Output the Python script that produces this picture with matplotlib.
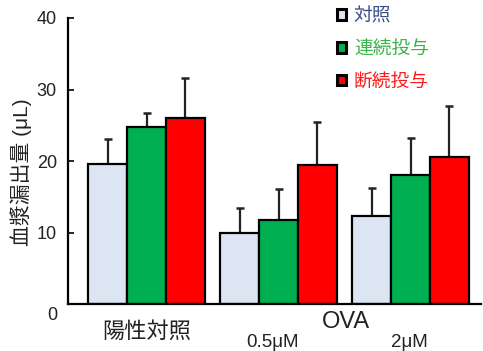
import numpy as np
import matplotlib.pyplot as plt
import matplotlib.transforms as mtransforms

plt.rcParams['font.family'] = ['Liberation Sans', 'Noto Sans CJK JP']

groups = ['陽性対照', '0.5μM', '2μM']
series = ['対照', '連続投与', '断続投与']
means = [
    [19.6, 9.9, 12.3],   # 対照
    [24.8, 11.8, 18.1],  # 連続投与
    [26.0, 19.5, 20.5],  # 断続投与
]
errs = [
    [3.5, 3.5, 3.9],
    [1.9, 4.3, 5.1],
    [5.6, 5.9, 7.2],
]
fills = ['#dce6f2', '#00b050', '#ff0000']
text_cols = ['#3b4f86', '#3cb34a', '#ff1a1a']

fig = plt.figure(figsize=(4.83, 3.51), dpi=100)
ax = fig.add_axes([68 / 483, 47 / 351, 413 / 483, 286 / 351])

x = np.arange(len(groups))
w = 0.295
handles = []
for i in range(3):
    pos = x + (i - 1) * w
    b = ax.bar(pos, means[i], width=w, color=fills[i], edgecolor='black',
               linewidth=1.6, zorder=2, label=series[i])
    ax.errorbar(pos, means[i], yerr=[np.zeros(3), errs[i]], fmt='none',
                ecolor='#222222', elinewidth=1.6, capsize=3, capthick=1.8,
                zorder=1)
    handles.append(b)

ax.set_xlim(-0.595, 2.534)
ax.set_ylim(0, 40)
ax.set_yticks([0, 10, 20, 30, 40])
ax.tick_params(axis='y', direction='in', length=4, width=1.2, labelsize=13,
               pad=8, labelcolor='#222222')
ax.set_xticks([])
for s in ['top', 'right']:
    ax.spines[s].set_visible(False)
ax.spines['left'].set_linewidth(1.6)
ax.spines['bottom'].set_linewidth(1.6)

# the "0" label sits a little below the baseline
zero = ax.get_yticklabels()[0]
zero.set_transform(zero.get_transform() +
                   mtransforms.ScaledTranslation(0, -9 / 100, fig.dpi_scale_trans))

ax.set_ylabel('血漿漏出量 (μL)', fontsize=15, va='center', color='#222222')
ax.yaxis.set_label_coords(-0.114, 0.46)

# group captions under the axis
xt = ax.get_xaxis_transform()
ax.text(0.003, -0.101, groups[0], transform=xt, ha='center', va='center',
        fontsize=16, color='#222222')
ax.text(0.954, -0.133, groups[1], transform=xt, ha='center', va='center',
        fontsize=13.5, color='#222222')
ax.text(1.99, -0.133, groups[2], transform=xt, ha='center', va='center',
        fontsize=13.5, color='#222222')
ax.text(1.51, -0.063, 'OVA', transform=xt, ha='center', va='center',
        fontsize=17, color='#222222')

leg = ax.legend(handles=handles, loc='upper left',
                bbox_to_anchor=(337 / 483, 1 - 8 / 351),
                bbox_transform=fig.transFigure, frameon=False,
                borderpad=0, borderaxespad=0,
                fontsize=13.5, handlelength=0.5, handleheight=0.5,
                handletextpad=0.4, labelspacing=0.84, labelcolor=text_cols)
for p in leg.get_patches():
    p.set_linewidth(2.2)

fig.savefig('out.png', dpi=100)
